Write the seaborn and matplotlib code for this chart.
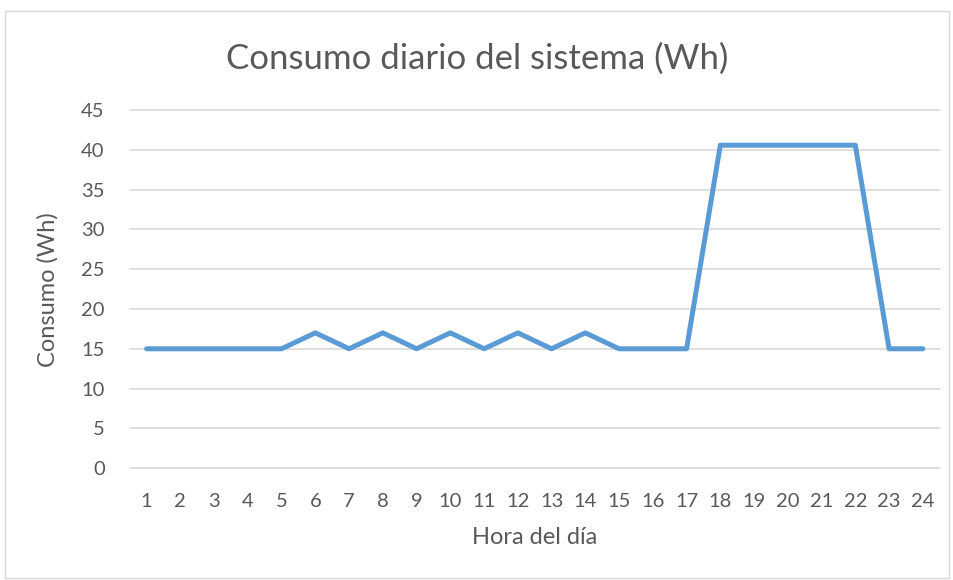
import pandas as pd
import seaborn as sns
import matplotlib.pyplot as plt
from matplotlib.patches import Rectangle

# Datos del consumo por hora
horas = list(range(1, 25))
consumo = [15, 15, 15, 15, 15, 17, 15, 17, 15, 17, 15, 17,
           15, 17, 15, 15, 15, 40.6, 40.6, 40.6, 40.6, 40.6, 15, 15]

df = pd.DataFrame({"Hora": horas, "Consumo": consumo})

sns.set_style("white")
plt.rcParams['font.family'] = ['Lato', 'DejaVu Sans']
gris = "#595959"

fig = plt.figure(figsize=(9.54, 5.80), dpi=100)
ax = fig.add_axes([0.136, 0.193, 0.849, 0.617])

sns.lineplot(data=df, x="Hora", y="Consumo", ax=ax, color="#5B9BD5",
             linewidth=3.6, solid_joinstyle="round", solid_capstyle="round")

ax.set_xlim(0.5, 24.5)
ax.set_ylim(0, 45)
ax.set_yticks(range(0, 50, 5))
ax.set_xticks(horas)
ax.yaxis.grid(True, color="#D9D9D9", linewidth=1.2)
for gl in ax.get_ygridlines():
    gl.set_clip_on(False)
ax.set_axisbelow(True)
for s in ax.spines.values():
    s.set_visible(False)
ax.tick_params(axis="both", length=0, labelsize=14.5, labelcolor=gris)
ax.tick_params(axis="x", pad=18)
ax.tick_params(axis="y", pad=18)

ax.set_xlabel("Hora del día", fontsize=17, color=gris, labelpad=12)
ax.set_ylabel("Consumo (Wh)", fontsize=17, color=gris, labelpad=16)
fig.text(0.5, 0.898, "Consumo diario del sistema (Wh)", ha="center", va="center",
         fontsize=25, color=gris)

# Borde del gráfico
fig.patches.append(Rectangle((0.005, 0.003), 0.99, 0.978, transform=fig.transFigure,
                             fill=False, edgecolor="#D9D9D9", linewidth=1))

fig.savefig("out.png", dpi=100)
